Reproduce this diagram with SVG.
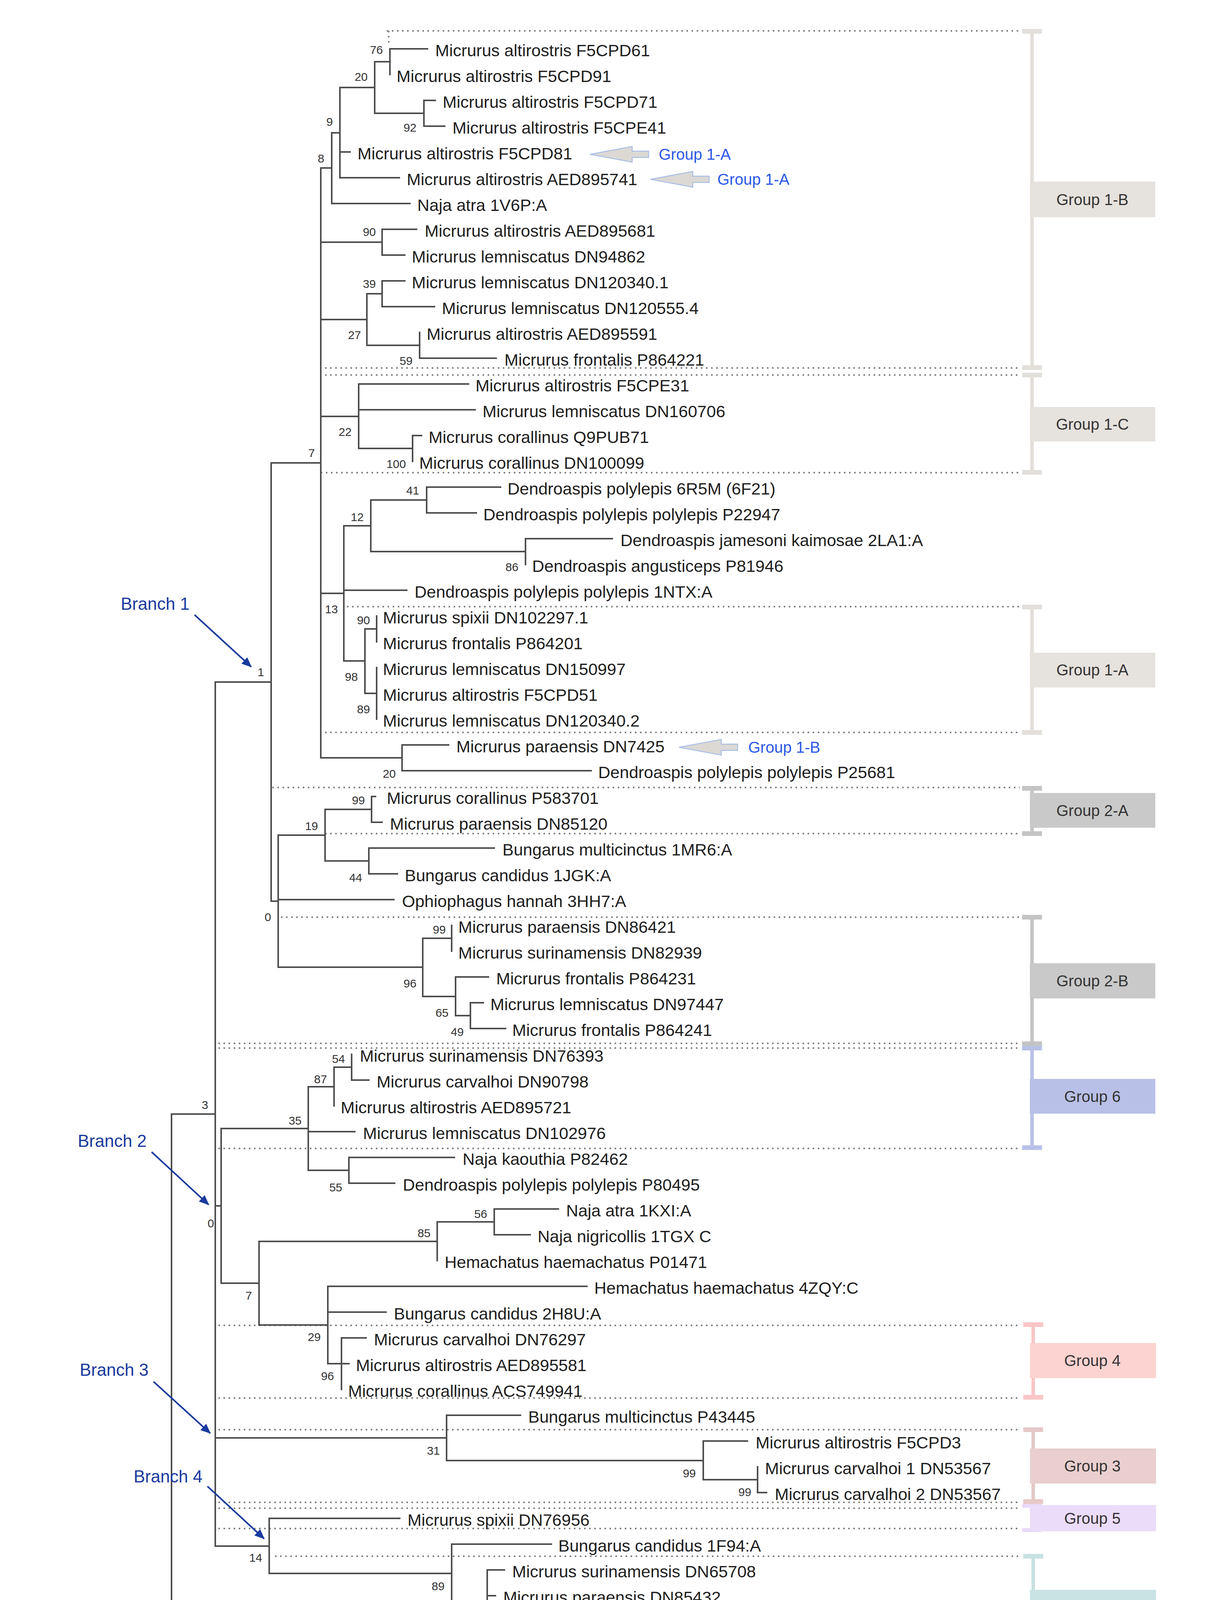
<svg xmlns="http://www.w3.org/2000/svg" width="3120" height="5616" viewBox="0 0 3120 5616">
<defs>
<style>
.br{fill:none;stroke:#4d4d4d;stroke-width:4;stroke-linecap:square}
.dot{fill:none;stroke:#808080;stroke-width:4;stroke-dasharray:4 9}
.lf{font-family:"Liberation Sans",Arial,sans-serif;font-size:43px;fill:#1e1e1e}
.bs{font-family:"Liberation Sans",Arial,sans-serif;font-size:30px;fill:#333;text-anchor:end}
.grp{font-family:"Liberation Sans",Arial,sans-serif;font-size:40px;fill:#333;text-anchor:middle}
.bl{font-family:"Liberation Sans",Arial,sans-serif;font-size:44px;fill:#1a3a9e}
.co{font-family:"Liberation Sans",Arial,sans-serif;font-size:40px;fill:#2b57e8}
.ba{fill:none;stroke:#1a3a9e;stroke-width:4;marker-end:url(#ah)}
.callout{fill:#dcd9d5;stroke:#a9bde6;stroke-width:2.5}
</style>
<marker id="ah" markerUnits="userSpaceOnUse" markerWidth="26" markerHeight="22" refX="24" refY="11" orient="auto">
<path d="M0,0 L26,11 L0,22 Z" fill="#1a3a9e"/>
</marker>
<path id="callArrow" d="M0,0 L108,-20 L108,-8 L150,-8 L150,8 L108,8 L108,20 Z"/>
</defs>
<rect x="0" y="0" width="3120" height="5616" fill="#ffffff"/>

<g id="dotted-separators">
<path class="dot" d="M990 79H2610 M995 79V118 M832 942H2610 M832 960H2610 M821 1210H2610 M888 1553H2610 M832 1875H2610 M697 2016H2610 M832 2134H2610 M719 2348H2610 M559 2671H2610 M559 2683H2610 M559 2940H2610 M559 3393H2610 M559 3579H2610 M559 3660H2610 M559 3846H2610 M559 3861H2610 M559 3913H2610 M704 3984H2610 M439 4246H2610 M439 4258H2610 M439 4367H2610 M439 4387H2610 M439 4509H2610 M439 4523H2610 M439 4576H2610 M740 4781H2610 M740 4836H2610 M740 4850H2610 M1260 5101H2610 M1237 5179H2610 M1393 5232H2610 M1393 5246H2610 M1393 5306H2610 M1393 5318H2610 M1393 5372H2610"/>
</g>

<g id="connectors">
<path class="br" d="
M439 2852V4583 M439 2852H551 M439 4583H518
M551 1746V3958 M551 1746H694 M551 3087H566 M551 3681H1143 M551 3958H689
M694 1185V2307 M694 1185H821 M694 2307H712
M821 430V1940 M821 430H849 M821 620H978 M821 818H939 M821 1066H918 M821 1519H880 M821 1940H1029
M849 340V521 M849 340H870 M849 521H1049
M870 224V455 M870 224H959 M870 389H896 M870 455H1022
M959 158V290 M959 158H998 M959 290H1085
M998 125V191 M998 125H1094
M1085 257V323 M1085 257H1114 M1085 323H1138
M978 587V653 M978 587H1066 M978 653H1036
M939 752V884 M939 752H978 M939 884H1074
M978 719V785 M978 719H1036 M978 785H1112
M1074 851V917 M1074 917H1270
M918 983V1148 M918 983H1199 M918 1049H1216 M918 1148H1056
M1056 1115V1181 M1056 1115H1079
M880 1346V1692 M880 1346H949 M880 1511H1041 M880 1692H934
M949 1280V1412 M949 1280H1092 M949 1412H1345
M1092 1247V1313 M1092 1247H1281 M1092 1313H1219
M1345 1379V1445 M1345 1379H1567
M934 1610V1775 M934 1610H964 M934 1775H964
M964 1577V1643 M964 1709V1841
M1029 1907V1973 M1029 1907H1148 M1029 1973H1513
M712 2138V2476 M712 2138H832 M712 2303H1008 M712 2476H1082
M832 2072V2204 M832 2072H951 M832 2204H944
M951 2039V2105 M951 2039H961 M951 2105H978
M944 2171V2237 M944 2171H1265 M944 2237H1017
M1082 2402V2551 M1082 2402H1156 M1082 2551H1166
M1156 2369V2435
M1166 2501V2600 M1166 2501H1250 M1166 2600H1204
M1204 2567V2633 M1204 2567H1237 M1204 2633H1294
M566 2889V3285 M566 2889H789 M566 3285H663
M789 2782V2996 M789 2782H855 M789 2897H908 M789 2996H893
M855 2732V2831 M855 2732H900
M900 2699V2765 M900 2765H944
M893 2963V3029 M893 2963H1163 M893 3029H1010
M663 3178V3392 M663 3178H1119 M663 3392H839
M1119 3128V3227 M1119 3128H1265
M1265 3095V3161 M1265 3095H1429 M1265 3161H1357
M839 3293V3491 M839 3293H1502 M839 3359H988 M839 3491H874
M874 3425V3557 M874 3425H937 M874 3491H893
M1143 3623V3739 M1143 3623H1332 M1143 3739H1800
M1800 3689V3788 M1800 3689H1913 M1800 3788H1939
M1939 3755V3821 M1939 3821H1962
M689 3887V4028 M689 3887H1023 M689 4028H1156
M1156 3953V4102 M1156 3953H1411 M1156 4102H1247
M1247 4019V4184 M1247 4019H1291 M1247 4085H1268 M1247 4184H1268
M1268 4151V4217 M1268 4217H1288
M518 4457V4709 M518 4457H624 M518 4709H694
M624 4366V4547 M624 4366H724 M624 4481H821 M624 4547H860
M724 4316V4415 M724 4316H760 M724 4415H852
M760 4283V4349 M760 4283H890 M760 4349H964
M694 4613V4804 M694 4613H1010 M694 4804H740
M740 4712V4896 M740 4712H906 M740 4896H895
M906 4679V4745 M906 4679H1173 M906 4745H1173
M895 4811V4981 M895 4811H1960 M895 4981H992
M992 4877V5084 M992 4877H1240 M992 5084H1247
M1247 4943V5224 M1247 4943H1270 M1247 5009H1327 M1247 5224H1393
M1393 5108V5339 M1393 5108H1515 M1393 5207H1492 M1393 5273H1488 M1393 5339H1488
M1515 5075V5141 M1515 5075H1536 M1515 5141H1707
"/>
<path class="ba" d="M498 1574L643 1707"/>
<path class="ba" d="M388 2949L534 3084"/>
<path class="ba" d="M393 3537L538 3669"/>
<path class="ba" d="M531 3805L676 3939"/>
<path class="ba" d="M359 4434L505 4568"/>
<use href="#callArrow" class="callout" x="1510" y="395"/>
<use href="#callArrow" class="callout" x="1665" y="459"/>
<use href="#callArrow" class="callout" x="1738" y="1913"/>
</g>

<g id="leaves">
<g id="leaf1"><text class="lf" x="1114" y="144">Micrurus altirostris F5CPD61</text></g>
<g id="leaf2"><text class="lf" x="1015" y="210">Micrurus altirostris F5CPD91</text></g>
<g id="leaf3"><text class="lf" x="1133" y="276">Micrurus altirostris F5CPD71</text></g>
<g id="leaf4"><text class="lf" x="1158" y="342">Micrurus altirostris F5CPE41</text></g>
<g id="leaf5"><text class="lf" x="915" y="408">Micrurus altirostris F5CPD81</text></g>
<g id="leaf6"><text class="lf" x="1041" y="474">Micrurus altirostris AED895741</text></g>
<g id="leaf7"><text class="lf" x="1068" y="540">Naja atra 1V6P:A</text></g>
<g id="leaf8"><text class="lf" x="1087" y="606">Micrurus altirostris AED895681</text></g>
<g id="leaf9"><text class="lf" x="1054" y="672">Micrurus lemniscatus DN94862</text></g>
<g id="leaf10"><text class="lf" x="1054" y="738">Micrurus lemniscatus DN120340.1</text></g>
<g id="leaf11"><text class="lf" x="1131" y="804">Micrurus lemniscatus DN120555.4</text></g>
<g id="leaf12"><text class="lf" x="1092" y="870">Micrurus altirostris AED895591</text></g>
<g id="leaf13"><text class="lf" x="1291" y="936">Micrurus frontalis P864221</text></g>
<g id="leaf14"><text class="lf" x="1217" y="1002">Micrurus altirostris F5CPE31</text></g>
<g id="leaf15"><text class="lf" x="1235" y="1068">Micrurus lemniscatus DN160706</text></g>
<g id="leaf16"><text class="lf" x="1097" y="1134">Micrurus corallinus Q9PUB71</text></g>
<g id="leaf17"><text class="lf" x="1073" y="1200">Micrurus corallinus DN100099</text></g>
<g id="leaf18"><text class="lf" x="1299" y="1266">Dendroaspis polylepis 6R5M (6F21)</text></g>
<g id="leaf19"><text class="lf" x="1237" y="1332">Dendroaspis polylepis polylepis P22947</text></g>
<g id="leaf20"><text class="lf" x="1588" y="1398">Dendroaspis jamesoni kaimosae 2LA1:A</text></g>
<g id="leaf21"><text class="lf" x="1362" y="1464">Dendroaspis angusticeps P81946</text></g>
<g id="leaf22"><text class="lf" x="1061" y="1530">Dendroaspis polylepis polylepis 1NTX:A</text></g>
<g id="leaf23"><text class="lf" x="980" y="1596">Micrurus spixii DN102297.1</text></g>
<g id="leaf24"><text class="lf" x="980" y="1662">Micrurus frontalis P864201</text></g>
<g id="leaf25"><text class="lf" x="980" y="1728">Micrurus lemniscatus DN150997</text></g>
<g id="leaf26"><text class="lf" x="980" y="1794">Micrurus altirostris F5CPD51</text></g>
<g id="leaf27"><text class="lf" x="980" y="1860">Micrurus lemniscatus DN120340.2</text></g>
<g id="leaf28"><text class="lf" x="1168" y="1926">Micrurus paraensis DN7425</text></g>
<g id="leaf29"><text class="lf" x="1531" y="1992">Dendroaspis polylepis polylepis P25681</text></g>
<g id="leaf30"><text class="lf" x="990" y="2058">Micrurus corallinus P583701</text></g>
<g id="leaf31"><text class="lf" x="998" y="2124">Micrurus paraensis DN85120</text></g>
<g id="leaf32"><text class="lf" x="1286" y="2190">Bungarus multicinctus 1MR6:A</text></g>
<g id="leaf33"><text class="lf" x="1036" y="2256">Bungarus candidus 1JGK:A</text></g>
<g id="leaf34"><text class="lf" x="1029" y="2322">Ophiophagus hannah 3HH7:A</text></g>
<g id="leaf35"><text class="lf" x="1173" y="2388">Micrurus paraensis DN86421</text></g>
<g id="leaf36"><text class="lf" x="1173" y="2454">Micrurus surinamensis DN82939</text></g>
<g id="leaf37"><text class="lf" x="1270" y="2520">Micrurus frontalis P864231</text></g>
<g id="leaf38"><text class="lf" x="1255" y="2586">Micrurus lemniscatus DN97447</text></g>
<g id="leaf39"><text class="lf" x="1311" y="2652">Micrurus frontalis P864241</text></g>
<g id="leaf40"><text class="lf" x="921" y="2718">Micrurus surinamensis DN76393</text></g>
<g id="leaf41"><text class="lf" x="964" y="2784">Micrurus carvalhoi DN90798</text></g>
<g id="leaf42"><text class="lf" x="872" y="2850">Micrurus altirostris AED895721</text></g>
<g id="leaf43"><text class="lf" x="929" y="2916">Micrurus lemniscatus DN102976</text></g>
<g id="leaf44"><text class="lf" x="1184" y="2982">Naja kaouthia P82462</text></g>
<g id="leaf45"><text class="lf" x="1031" y="3048">Dendroaspis polylepis polylepis P80495</text></g>
<g id="leaf46"><text class="lf" x="1449" y="3114">Naja atra 1KXI:A</text></g>
<g id="leaf47"><text class="lf" x="1376" y="3180">Naja nigricollis 1TGX C</text></g>
<g id="leaf48"><text class="lf" x="1138" y="3246">Hemachatus haemachatus P01471</text></g>
<g id="leaf49"><text class="lf" x="1521" y="3312">Hemachatus haemachatus 4ZQY:C</text></g>
<g id="leaf50"><text class="lf" x="1008" y="3378">Bungarus candidus 2H8U:A</text></g>
<g id="leaf51"><text class="lf" x="957" y="3444">Micrurus carvalhoi DN76297</text></g>
<g id="leaf52"><text class="lf" x="911" y="3510">Micrurus altirostris AED895581</text></g>
<g id="leaf53"><text class="lf" x="891" y="3576">Micrurus corallinus ACS749941</text></g>
<g id="leaf54"><text class="lf" x="1352" y="3642">Bungarus multicinctus P43445</text></g>
<g id="leaf55"><text class="lf" x="1934" y="3708">Micrurus altirostris F5CPD3</text></g>
<g id="leaf56"><text class="lf" x="1958" y="3774">Micrurus carvalhoi 1 DN53567</text></g>
<g id="leaf57"><text class="lf" x="1983" y="3840">Micrurus carvalhoi 2 DN53567</text></g>
<g id="leaf58"><text class="lf" x="1043" y="3906">Micrurus spixii DN76956</text></g>
<g id="leaf59"><text class="lf" x="1429" y="3972">Bungarus candidus 1F94:A</text></g>
<g id="leaf60"><text class="lf" x="1311" y="4038">Micrurus surinamensis DN65708</text></g>
<g id="leaf61"><text class="lf" x="1288" y="4104">Micrurus paraensis DN85432</text></g>
<g id="leaf62"><text class="lf" x="1288" y="4170">Micrurus lemniscatus DN60256</text></g>
<g id="leaf63"><text class="lf" x="1309" y="4236">Micrurus altirostris AED895611</text></g>
<g id="leaf64"><text class="lf" x="910" y="4302">Micrurus corallinus ACS749991</text></g>
<g id="leaf65"><text class="lf" x="982" y="4368">Micrurus paraensis DN77416</text></g>
<g id="leaf66"><text class="lf" x="872" y="4434">Micrurus spixii DN102297.2</text></g>
<g id="leaf67"><text class="lf" x="842" y="4500">Micrurus corallinus ACS749981</text></g>
<g id="leaf68"><text class="lf" x="880" y="4566">Micrurus altirostris F5CPE61</text></g>
<g id="leaf69"><text class="lf" x="1031" y="4632">Pseudonaja textilis Q9W7K0</text></g>
<g id="leaf70"><text class="lf" x="1194" y="4698">Dendroaspis polylepis polylepis 5DO6:B</text></g>
<g id="leaf71"><text class="lf" x="1194" y="4764">Ophiophagus hannah Q2VBP1</text></g>
<g id="leaf72"><text class="lf" x="1980" y="4830">Micrurus corallinus C6JUP3</text></g>
<g id="leaf73"><text class="lf" x="1260" y="4896">Micrurus corallinus DN122351</text></g>
<g id="leaf74"><text class="lf" x="1291" y="4962">Micrurus altirostris AED89567</text></g>
<g id="leaf75"><text class="lf" x="1345" y="5028">Micrurus frontalis P864211</text></g>
<g id="leaf76"><text class="lf" x="1556" y="5094">Micrurus corallinus C6JUP11</text></g>
<g id="leaf77"><text class="lf" x="1729" y="5160">Micrurus fulvius 4RUD:B</text></g>
<g id="leaf78"><text class="lf" x="1512" y="5226">Micrurus altirostris F5CPE21</text></g>
<g id="leaf79"><text class="lf" x="1508" y="5292">Micrurus carvalhoi DN62882</text></g>
<g id="leaf80"><text class="lf" x="1508" y="5358">Micrurus carvalhoi DN94900</text></g>
</g>

<g id="bootstrap">
<text class="bs" x="980" y="138">76</text>
<text class="bs" x="941" y="207">20</text>
<text class="bs" x="1066" y="337">92</text>
<text class="bs" x="852" y="322">9</text>
<text class="bs" x="830" y="416">8</text>
<text class="bs" x="962" y="604">90</text>
<text class="bs" x="962" y="737">39</text>
<text class="bs" x="924" y="868">27</text>
<text class="bs" x="1056" y="934">59</text>
<text class="bs" x="806" y="1170">7</text>
<text class="bs" x="900" y="1116">22</text>
<text class="bs" x="1039" y="1198">100</text>
<text class="bs" x="1073" y="1266">41</text>
<text class="bs" x="931" y="1334">12</text>
<text class="bs" x="1327" y="1462">86</text>
<text class="bs" x="865" y="1570">13</text>
<text class="bs" x="947" y="1598">90</text>
<text class="bs" x="916" y="1743">98</text>
<text class="bs" x="947" y="1826">89</text>
<text class="bs" x="676" y="1731">1</text>
<text class="bs" x="1013" y="1991">20</text>
<text class="bs" x="934" y="2059">99</text>
<text class="bs" x="814" y="2125">19</text>
<text class="bs" x="927" y="2257">44</text>
<text class="bs" x="694" y="2358">0</text>
<text class="bs" x="1141" y="2390">99</text>
<text class="bs" x="1066" y="2528">96</text>
<text class="bs" x="1148" y="2603">65</text>
<text class="bs" x="1187" y="2652">49</text>
<text class="bs" x="883" y="2721">54</text>
<text class="bs" x="837" y="2773">87</text>
<text class="bs" x="533" y="2839">3</text>
<text class="bs" x="772" y="2879">35</text>
<text class="bs" x="876" y="3050">55</text>
<text class="bs" x="548" y="3142">0</text>
<text class="bs" x="1247" y="3118">56</text>
<text class="bs" x="1102" y="3167">85</text>
<text class="bs" x="645" y="3327">7</text>
<text class="bs" x="821" y="3433">29</text>
<text class="bs" x="855" y="3533">96</text>
<text class="bs" x="1126" y="3724">31</text>
<text class="bs" x="1781" y="3782">99</text>
<text class="bs" x="1923" y="3830">99</text>
<text class="bs" x="671" y="3998">14</text>
<text class="bs" x="1138" y="4071">89</text>
<text class="bs" x="1230" y="4145">99</text>
<text class="bs" x="1250" y="4230">71</text>
<text class="bs" x="743" y="4297">48</text>
<text class="bs" x="707" y="4347">20</text>
<text class="bs" x="610" y="4438">20</text>
<text class="bs" x="676" y="4752">2</text>
<text class="bs" x="888" y="4694">24</text>
<text class="bs" x="722" y="4848">3</text>
<text class="bs" x="878" y="4940">14</text>
<text class="bs" x="974" y="5027">42</text>
<text class="bs" x="1230" y="5129">93</text>
<text class="bs" x="1497" y="5091">31</text>
<text class="bs" x="1376" y="5269">4</text>
</g>

<g id="branch-labels">
<g id="branch1"><text class="bl" x="309" y="1561">Branch 1</text></g>
<g id="branch2"><text class="bl" x="199" y="2936">Branch 2</text></g>
<g id="branch3"><text class="bl" x="204" y="3522">Branch 3</text></g>
<g id="branch4"><text class="bl" x="342" y="3795">Branch 4</text></g>
<g id="branch5"><text class="bl" x="170" y="4424">Branch 5</text></g>
</g>

<g id="callouts">
<g id="callout1"><text class="co" x="1686" y="409">Group 1-A</text></g>
<g id="callout2"><text class="co" x="1836" y="473">Group 1-A</text></g>
<g id="callout3"><text class="co" x="1915" y="1927">Group 1-B</text></g>
</g>

<g id="brackets">
<g fill="#e3dfda"><rect x="2637" y="80" width="9" height="861"/><rect x="2616" y="74" width="51" height="12"/><rect x="2616" y="935" width="51" height="12"/></g>
<g fill="#e3dfda"><rect x="2637" y="960" width="9" height="249"/><rect x="2616" y="954" width="51" height="12"/><rect x="2616" y="1203" width="51" height="12"/></g>
<g fill="#e3dfda"><rect x="2637" y="1554" width="9" height="321"/><rect x="2616" y="1548" width="51" height="12"/><rect x="2616" y="1869" width="51" height="12"/></g>
<g fill="#c4c4c4"><rect x="2637" y="2018" width="9" height="116"/><rect x="2616" y="2012" width="51" height="12"/><rect x="2616" y="2128" width="51" height="12"/></g>
<g fill="#c4c4c4"><rect x="2637" y="2348" width="9" height="324"/><rect x="2616" y="2342" width="51" height="12"/><rect x="2616" y="2666" width="51" height="12"/></g>
<g fill="#b9c1e8"><rect x="2637" y="2681" width="9" height="257"/><rect x="2616" y="2677" width="51" height="12"/><rect x="2616" y="2932" width="51" height="12"/></g>
<g fill="#f9c6c6"><rect x="2640" y="3391" width="9" height="186"/><rect x="2619" y="3385" width="51" height="12"/><rect x="2619" y="3571" width="51" height="12"/></g>
<g fill="#e6c9c9"><rect x="2640" y="3660" width="9" height="184"/><rect x="2619" y="3654" width="51" height="12"/><rect x="2619" y="3838" width="51" height="12"/></g>
<g fill="#e9d9f8"><rect x="2616" y="3850" width="51" height="10"/><rect x="2616" y="3912" width="51" height="10"/></g>
<g fill="#c7e1e1"><rect x="2640" y="3984" width="9" height="262"/><rect x="2619" y="3978" width="51" height="12"/><rect x="2619" y="4240" width="51" height="12"/></g>
<g fill="#fcefd6"><rect x="2640" y="4253" width="9" height="112"/><rect x="2619" y="4250" width="51" height="10"/><rect x="2619" y="4358" width="51" height="10"/></g>
<g fill="#d2edf9"><rect x="2640" y="4384" width="9" height="123"/><rect x="2619" y="4378" width="51" height="12"/><rect x="2619" y="4501" width="51" height="10"/>
<rect x="2619" y="4508" width="51" height="10"/><rect x="2619" y="4575" width="51" height="10"/>
<rect x="2619" y="4774" width="51" height="10"/><rect x="2619" y="4838" width="51" height="10"/>
<rect x="2640" y="4850" width="9" height="250"/><rect x="2619" y="4845" width="51" height="12"/><rect x="2619" y="5094" width="51" height="12"/>
<rect x="2619" y="5165" width="51" height="10"/><rect x="2619" y="5229" width="51" height="10"/>
<rect x="2619" y="5241" width="51" height="10"/><rect x="2619" y="5302" width="51" height="10"/>
<rect x="2619" y="5310" width="51" height="10"/><rect x="2619" y="5370" width="51" height="10"/></g>
</g>

<g id="groups">
<g id="group1B"><rect x="2636" y="465" width="321" height="91" fill="#e6e2de"/><text class="grp" x="2796" y="525">Group 1-B</text></g>
<g id="group1C"><rect x="2636" y="1042" width="321" height="88" fill="#e6e2de"/><text class="grp" x="2796" y="1100">Group 1-C</text></g>
<g id="group1A"><rect x="2636" y="1671" width="321" height="89" fill="#e6e2de"/><text class="grp" x="2796" y="1729">Group 1-A</text></g>
<g id="group2A"><rect x="2636" y="2030" width="321" height="89" fill="#c9c9c9"/><text class="grp" x="2796" y="2089">Group 2-A</text></g>
<g id="group2B"><rect x="2636" y="2466" width="321" height="90" fill="#c9c9c9"/><text class="grp" x="2796" y="2525">Group 2-B</text></g>
<g id="group6"><rect x="2636" y="2762" width="321" height="89" fill="#b8c0e7"/><text class="grp" x="2796" y="2821">Group 6</text></g>
<g id="group4"><rect x="2636" y="3438" width="323" height="90" fill="#fdd3d1"/><text class="grp" x="2796" y="3497">Group 4</text></g>
<g id="group3"><rect x="2636" y="3708" width="323" height="90" fill="#e9cfcf"/><text class="grp" x="2796" y="3767">Group 3</text></g>
<g id="group5a"><rect x="2636" y="3853" width="323" height="67" fill="#ebdcfa"/><text class="grp" x="2796" y="3901">Group 5</text></g>
<g id="group7"><rect x="2636" y="4070" width="323" height="89" fill="#c9e3e4"/><text class="grp" x="2796" y="4128">Group 7</text></g>
<g id="group9"><rect x="2636" y="4268" width="323" height="88" fill="#fdf0d6"/><text class="grp" x="2796" y="4327">Group 9</text></g>
<g id="group8A"><rect x="2636" y="4402" width="323" height="88" fill="#d4eefb"/><text class="grp" x="2796" y="4458">Group 8-A</text></g>
<g id="group8B"><rect x="2636" y="4514" width="323" height="67" fill="#d4eefb"/><text class="grp" x="2796" y="4562">Group 8-B</text></g>
<g id="group5b"><rect x="2636" y="4778" width="323" height="64" fill="#ebdcfa"/><text class="grp" x="2796" y="4825">Group 5</text></g>
<g id="group8B2"><rect x="2636" y="4930" width="323" height="91" fill="#d4eefb"/><text class="grp" x="2796" y="4991">Group 8-B</text></g>
<g id="group8B3"><rect x="2636" y="5169" width="323" height="65" fill="#d4eefb"/><text class="grp" x="2796" y="5214">Group 8-B</text></g>
<g id="group8A2"><rect x="2636" y="5245" width="323" height="64" fill="#d4eefb"/><text class="grp" x="2796" y="5291">Group 8-A</text></g>
<g id="group8B4"><rect x="2636" y="5312" width="323" height="64" fill="#d4eefb"/><text class="grp" x="2796" y="5357">Group 8-B</text></g>
</g>

<g id="scale-bar">
<path class="br" d="M498 5450H827 M498 5440V5460 M827 5440V5460"/>
<text class="bs" x="662" y="5526" style="text-anchor:middle">0.50</text>
</g>
</svg>
